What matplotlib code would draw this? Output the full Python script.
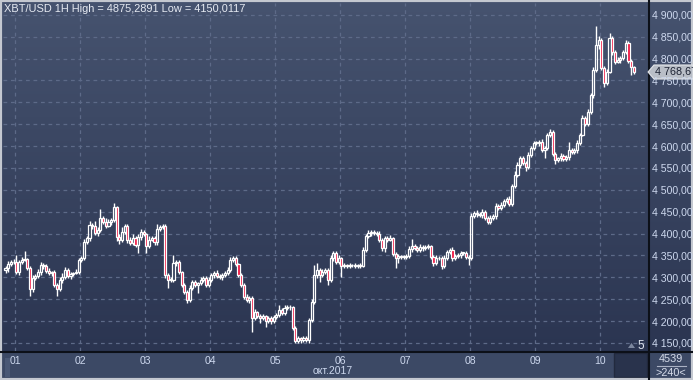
import numpy as np
import matplotlib
matplotlib.use('Agg')
import matplotlib.pyplot as plt
from matplotlib.patches import Rectangle, Polygon
from matplotlib.lines import Line2D
from matplotlib.colors import LinearSegmentedColormap

plt.rcParams['font.family'] = ['Liberation Sans', 'DejaVu Sans']

# hourly XBT/USD, first candle = 30 Sep 20:00
first_open = 4317
closes = [4321, 4330, 4335, 4335,
          4312, 4335, 4340, 4342, 4321, 4273, 4299, 4303, 4312, 4328, 4326, 4315,
          4310, 4312, 4283, 4273, 4294, 4301, 4317, 4303, 4308, 4310, 4312, 4340,
          4344, 4381, 4390, 4420, 4418, 4401, 4408, 4436, 4427, 4418, 4427, 4431,
          4461, 4392, 4386, 4404, 4418, 4386, 4379, 4390, 4374, 4392, 4404, 4399,
          4372, 4386, 4390, 4381, 4411, 4415, 4418, 4305, 4294, 4294, 4333, 4335,
          4312, 4283, 4267, 4248, 4276, 4289, 4283, 4287, 4294, 4299, 4283, 4294,
          4305, 4310, 4303, 4301, 4305, 4310, 4317, 4340, 4344, 4330, 4305, 4283,
          4255, 4248, 4253, 4207, 4221, 4212, 4207, 4212, 4200, 4207, 4200, 4209,
          4214, 4225, 4219, 4230, 4232, 4232, 4184, 4155, 4161, 4157, 4161, 4157,
          4203, 4244, 4305, 4317, 4305, 4312, 4317, 4294, 4344, 4356, 4335, 4344,
          4326, 4328, 4326, 4328, 4328, 4326, 4328, 4326, 4363, 4395, 4401, 4404,
          4401, 4399, 4386, 4367, 4390, 4386, 4390, 4354, 4344, 4349, 4347, 4347,
          4349, 4365, 4372, 4367, 4363, 4370, 4367, 4370, 4372, 4347, 4333, 4344,
          4344, 4326, 4344, 4358, 4363, 4344, 4349, 4351, 4356, 4356, 4347, 4344,
          4440, 4447, 4445, 4443, 4450, 4436, 4427, 4436, 4440, 4463, 4459, 4466,
          4475, 4479, 4468, 4509, 4534, 4557, 4573, 4562, 4552, 4580, 4596, 4607,
          4607, 4610, 4591, 4596, 4626, 4632, 4582, 4568, 4573, 4578, 4571, 4575,
          4591, 4587, 4591, 4607, 4626, 4664, 4651, 4678, 4717, 4774, 4831, 4843,
          4779, 4744, 4770, 4847, 4815, 4793, 4797, 4802, 4815, 4836, 4795, 4781,
          4768.67]
wick_up = [5, 8, 4, 6,
           16, 4, 6, 18, 3, 4, 6, 5, 8, 6, 4, 5, 7, 3, 4, 5, 6, 8, 6, 4, 5, 3, 6, 5,
           4, 6, 5, 8, 4, 10, 6, 20, 4, 8, 6, 5, 9, 3, 6, 12, 5, 4, 6, 8, 5, 7, 6, 4,
           3, 8, 5, 4, 11, 5, 4, 3, 4, 6, 18, 5, 4, 3, 5, 4, 6, 5, 4, 3, 6, 5, 4, 6,
           5, 4, 6, 5, 4, 5, 6, 7, 5, 4, 3, 5, 4, 6, 5, 4, 6, 3, 5, 4, 3, 5, 4, 6,
           5, 12, 4, 6, 5, 4, 3, 4, 5, 3, 4, 5, 4, 6, 23, 16, 5, 6, 4, 5, 6, 5, 4, 6,
           3, 4, 3, 4, 3, 4, 3, 5, 6, 5, 7, 4, 5, 4, 6, 4, 5, 4, 6, 2, 4, 5, 3, 4,
           4, 6, 16, 5, 4, 6, 5, 4, 5, 3, 4, 6, 5, 4, 6, 5, 4, 6, 4, 5, 4, 3, 5, 4,
           6, 5, 8, 4, 6, 5, 4, 6, 5, 7, 4, 6, 5, 4, 6, 5, 8, 6, 4, 5, 4, 6, 5, 4,
           5, 4, 6, 5, 4, 6, 4, 5, 3, 6, 4, 5, 19, 4, 5, 6, 4, 6, 5, 7, 4, 6, 44, 8,
           5, 4, 6, 12, 4, 5, 6, 4, 5, 6, 4, 3, 2]
wick_dn = [6, 8, 5, 4,
           4, 6, 5, 3, 5, 16, 6, 5, 4, 6, 8, 5, 4, 6, 4, 16, 5, 6, 4, 5, 6, 4, 3, 5,
           6, 4, 5, 6, 8, 5, 6, 4, 5, 6, 4, 7, 5, 8, 10, 6, 4, 8, 5, 6, 4, 18, 6, 5,
           16, 5, 4, 8, 6, 4, 5, 6, 18, 5, 4, 6, 5, 4, 6, 7, 5, 4, 6, 19, 5, 4, 6, 5,
           4, 6, 5, 4, 6, 5, 4, 5, 6, 4, 5, 6, 4, 5, 6, 32, 5, 6, 11, 4, 13, 5, 6, 4,
           5, 4, 6, 5, 4, 6, 4, 5, 4, 7, 5, 4, 6, 5, 4, 6, 16, 5, 4, 11, 5, 6, 4, 5,
           25, 4, 5, 4, 5, 4, 5, 4, 3, 5, 4, 6, 5, 4, 5, 6, 9, 5, 4, 6, 23, 11, 5, 4,
           5, 4, 6, 5, 4, 5, 6, 4, 5, 6, 8, 5, 4, 6, 5, 4, 5, 6, 4, 5, 6, 5, 4, 16,
           5, 4, 6, 5, 8, 4, 6, 5, 4, 6, 5, 4, 6, 5, 4, 6, 5, 4, 6, 5, 8, 4, 6, 5,
           4, 6, 5, 18, 4, 6, 5, 8, 4, 6, 5, 4, 6, 5, 4, 6, 5, 4, 6, 5, 4, 6, 5, 8,
           6, 9, 5, 4, 6, 5, 4, 6, 5, 4, 6, 18, 3]
day_labels = ['01', '02', '03', '04', '05', '06', '07', '08', '09', '10']
day_start = [4, 28, 52, 76, 100, 124, 148, 172, 196, 220]   # candle index of 00:00
price_ticks = list(range(4150, 4901, 50))
last_price = "4 768,67"

W, H = 693, 380
fig = plt.figure(figsize=(W / 100, H / 100), dpi=100)

def fx(px):
    return px / W

def fy(py):
    return 1 - py / H

# background
bg = fig.add_axes([0, 0, 1, 1])
bg.set_axis_off()
bg.set_xlim(0, 1)
bg.set_ylim(0, 1)
cmap = LinearSegmentedColormap.from_list('bg', ['#46536f', '#2b3551'])
grad = np.linspace(0, 1, 256).reshape(-1, 1)
bg.imshow(grad, aspect='auto', cmap=cmap, extent=[0, 1, fy(351), 1])
bg.add_patch(Rectangle((0, 0), 1, fy(351), color='#3c4965', lw=0))
bg.add_patch(Rectangle((fx(5), fy(377)), fx(10) - fx(5), fy(358) - fy(377), color='#4a5875', lw=0))
bg.add_patch(Rectangle((fx(614), fy(377)), fx(647) - fx(614), fy(353) - fy(377),
                       facecolor='#29334c', edgecolor='#222a3e', lw=1))
bg.add_line(Line2D([0, 1], [fy(351.5)] * 2, color='#0c1018', lw=1.5))
bg.add_line(Line2D([fx(649)] * 2, [0, 1], color='#0c1018', lw=1.5))
bg.add_patch(Rectangle((0, 0), 1, 1, fill=False, edgecolor='#c4c8d0', lw=3))

# main chart
ax = fig.add_axes([fx(3), fy(351), fx(648) - fx(3), fy(3) - fy(351)])
ax.patch.set_alpha(0)
for s in ax.spines.values():
    s.set_visible(False)

n = len(closes)
t = np.arange(n)
c = np.array(closes, dtype=float)
o = np.concatenate([[first_open], c[:-1]])
top = np.maximum(o, c)
bot = np.minimum(o, c)
hi = top + np.array(wick_up)
lo = bot - np.array(wick_dn)

ax.set_xlim(-0.94, 237.2)
ax.set_ylim(4131.7, 4927)

grid_c = '#5d6a88'
for p in price_ticks:
    ax.axhline(p, color=grid_c, lw=0.9, ls=(0, (3, 3)), zorder=0)
for d in day_start:
    ax.axvline(d - 0.5, color=grid_c, lw=0.9, ls=(0, (3, 3)), zorder=0)

ax.vlines(t, top, hi, color='white', lw=1, zorder=2)
ax.vlines(t, lo, bot, color='white', lw=1, zorder=2)
face = ['none' if cc >= oo else '#f0103c' for oo, cc in zip(o, c)]
ax.bar(t, np.maximum(top - bot, 1.2), bottom=bot, width=0.78, color=face,
       edgecolor='white', linewidth=0.9, zorder=3)

ax.yaxis.tick_right()
ax.set_yticks(price_ticks)
ax.set_yticklabels([f"{p // 1000} {p % 1000:03d},000" for p in price_ticks])
ax.tick_params(axis='y', length=0, pad=3, labelsize=7.6, labelcolor='#cdd8ee')
ax.set_xticks([d - 0.5 for d in day_start])
ax.set_xticklabels(day_labels)
ax.tick_params(axis='x', length=0, pad=3.5, labelsize=7.5, labelcolor='#cdd8ee')

# texts
fig.text(fx(4), fy(9), "XBT/USD 1H High = 4875,2891 Low = 4150,0117",
         fontsize=7.9, color='#e6eaf2', va='center', ha='left')
fig.text(fx(333), fy(371), "окт.2017", fontsize=7.5, color='#cdd8ee', va='center', ha='center')
fig.text(fx(641), fy(346), "5", fontsize=8.5, color='#dfe5f0', va='center', ha='center')
bg.add_patch(Polygon([(fx(628), fy(348)), (fx(635), fy(348)), (fx(631.5), fy(343))],
                     color='#7c879e', lw=0))
fig.text(fx(671), fy(359), "4539", fontsize=7.8, color='#d6dcea', va='center', ha='center')
bg.add_line(Line2D([fx(657), fx(686)], [fy(366)] * 2, color='#aab2c4', lw=0.8))
fig.text(fx(671), fy(373), ">240<", fontsize=7.8, color='#d6dcea', va='center', ha='center')

# last price tag
bg.add_patch(Polygon([(fx(648), fy(72)), (fx(654), fy(65)), (fx(693), fy(65)),
                      (fx(693), fy(79)), (fx(654), fy(79))],
                     facecolor='#b9bec7', edgecolor='#e4e6ea', lw=0.8, zorder=5))
fig.text(fx(655), fy(72), last_price, fontsize=7.8, color='#1c2233', va='center', ha='left',
         zorder=6)

fig.savefig('out.png', dpi=100)
